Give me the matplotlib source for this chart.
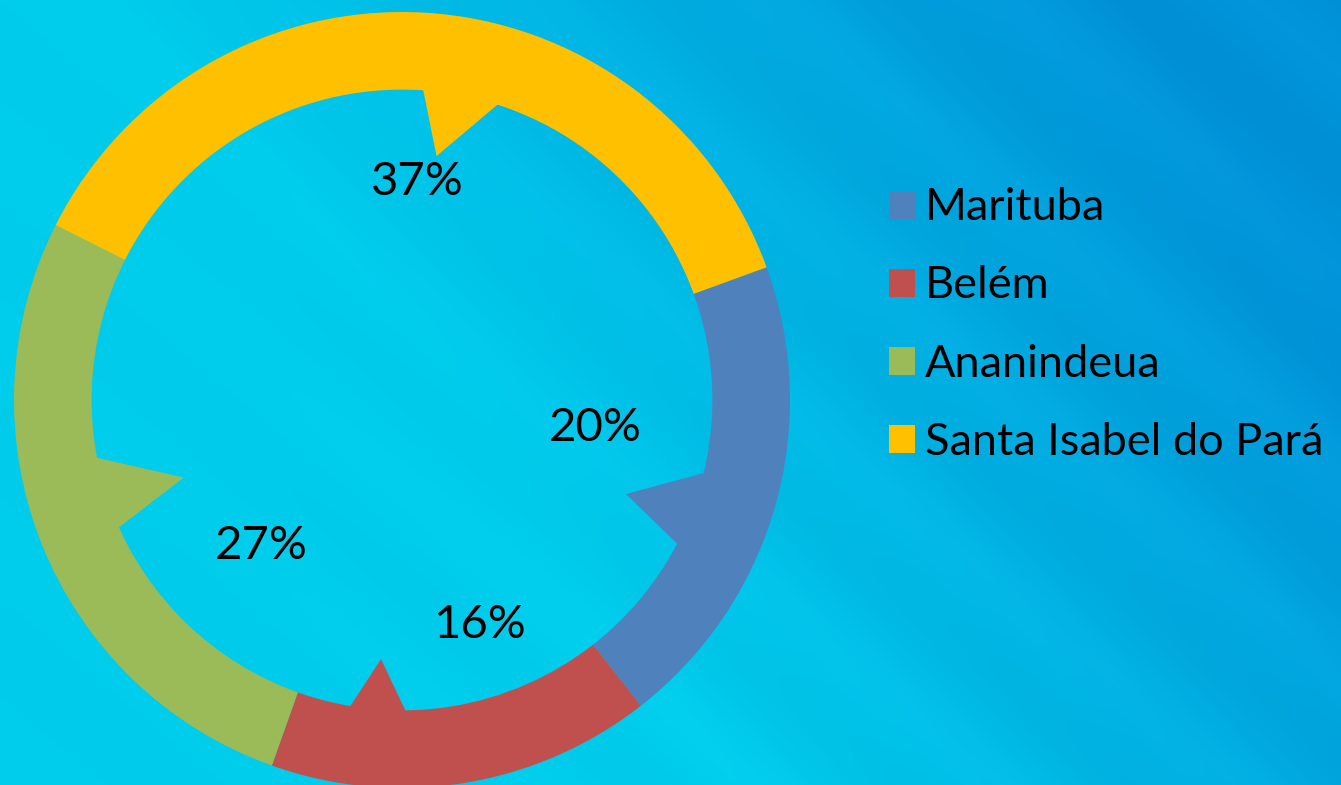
import numpy as np
import matplotlib.pyplot as plt
from matplotlib.patches import Polygon, Patch

plt.rcParams['font.family'] = ['Lato', 'DejaVu Sans']

# dados
cidades = ['Marituba', 'Belém', 'Ananindeua', 'Santa Isabel do Pará']
valores = [20, 16, 27, 37]
cores = ['#4F81BD', '#C0504D', '#9BBB59', '#FFC000']

# dente de cada fatia: (inicio, fim, ponta) como fração da fatia, raio da ponta
dentes = [(0.467, 0.661, 0.594, 0.626),
          (0.649, 0.826, 0.740, 0.670),
          (0.475, 0.614, 0.523, 0.597),
          (0.504, 0.609, 0.535, 0.635)]
# posição dos rótulos (ângulo em graus, raio)
pos_rotulos = [(-8.3, 0.503), (-70.9, 0.613), (-134.0, 0.523), (86.0, 0.562)]

W, H = 1341, 785
fig = plt.figure(figsize=(W / 100, H / 100), dpi=100)

# fundo com degradê e listras diagonais
bg = fig.add_axes([0, 0, 1, 1])
yy, xx = np.mgrid[0:H, 0:W]
xn = xx / W
yn = 1 - yy / H
t = 0.85 * (xn - 0.35) / 0.65 + 0.3 * (yn - 0.5) / 0.5 + 0.1 * np.hypot(xn - 0.3, (yn - 0.5) * 0.6)
t = np.clip(t, 0, 1)
listras = 0.012 * np.sin((xx - yy * 1.2) / 38.0) * np.clip(xn * 1.5, 0, 1)
c0 = np.array([0, 204, 236]) / 255
c1 = np.array([0, 146, 216]) / 255
img = c0[None, None, :] * (1 - t[..., None]) + c1[None, None, :] * t[..., None]
img = np.clip(img + listras[..., None], 0, 1)
bg.imshow(img, aspect='auto', extent=[0, 1, 0, 1], origin='upper')
bg.axis('off')

# rosca
cx, cy, R = 402, 400, 388
ax = fig.add_axes([(cx - R) / W, (H - cy - R) / H, 2 * R / W, 2 * R / H])
ax.patch.set_alpha(0)
largura = 0.2
fatias, _ = ax.pie(valores, colors=cores, startangle=20, counterclock=False,
                   radius=1, wedgeprops=dict(width=largura, edgecolor='none'))

r_in = 1 - largura
for w, (f1, f2, fp, rp), cor in zip(fatias, dentes, cores):
    a0, a1 = w.theta2, w.theta1  # sentido horário
    ang = lambda f: np.deg2rad(a0 - f * (a0 - a1))
    pts = []
    for f, r in [(f1, r_in + 0.05), (f1, r_in), (fp, rp), (f2, r_in), (f2, r_in + 0.05),
                 ((f1 + f2) / 2, r_in + 0.05)]:
        pts.append((r * np.cos(ang(f)), r * np.sin(ang(f))))
    ax.add_patch(Polygon(pts, closed=True, facecolor=cor, edgecolor='none'))

for v, (a, r) in zip(valores, pos_rotulos):
    ax.text(r * np.cos(np.deg2rad(a)), r * np.sin(np.deg2rad(a)), f'{v}%',
            ha='center', va='center', fontsize=34, color='#000000')

ax.set_xlim(-1, 1)
ax.set_ylim(-1, 1)
ax.set_aspect('equal')

# legenda
alcas = [Patch(facecolor=c, edgecolor='none') for c in cores]
fig.legend(alcas, cidades, loc='center left', bbox_to_anchor=(889 / W, 1 - 325 / H),
           frameon=False, fontsize=32.5, handlelength=0.58, handleheight=0.58,
           handletextpad=0.22, labelspacing=0.82, borderpad=0, borderaxespad=0)

fig.savefig('out.png', dpi=100)
